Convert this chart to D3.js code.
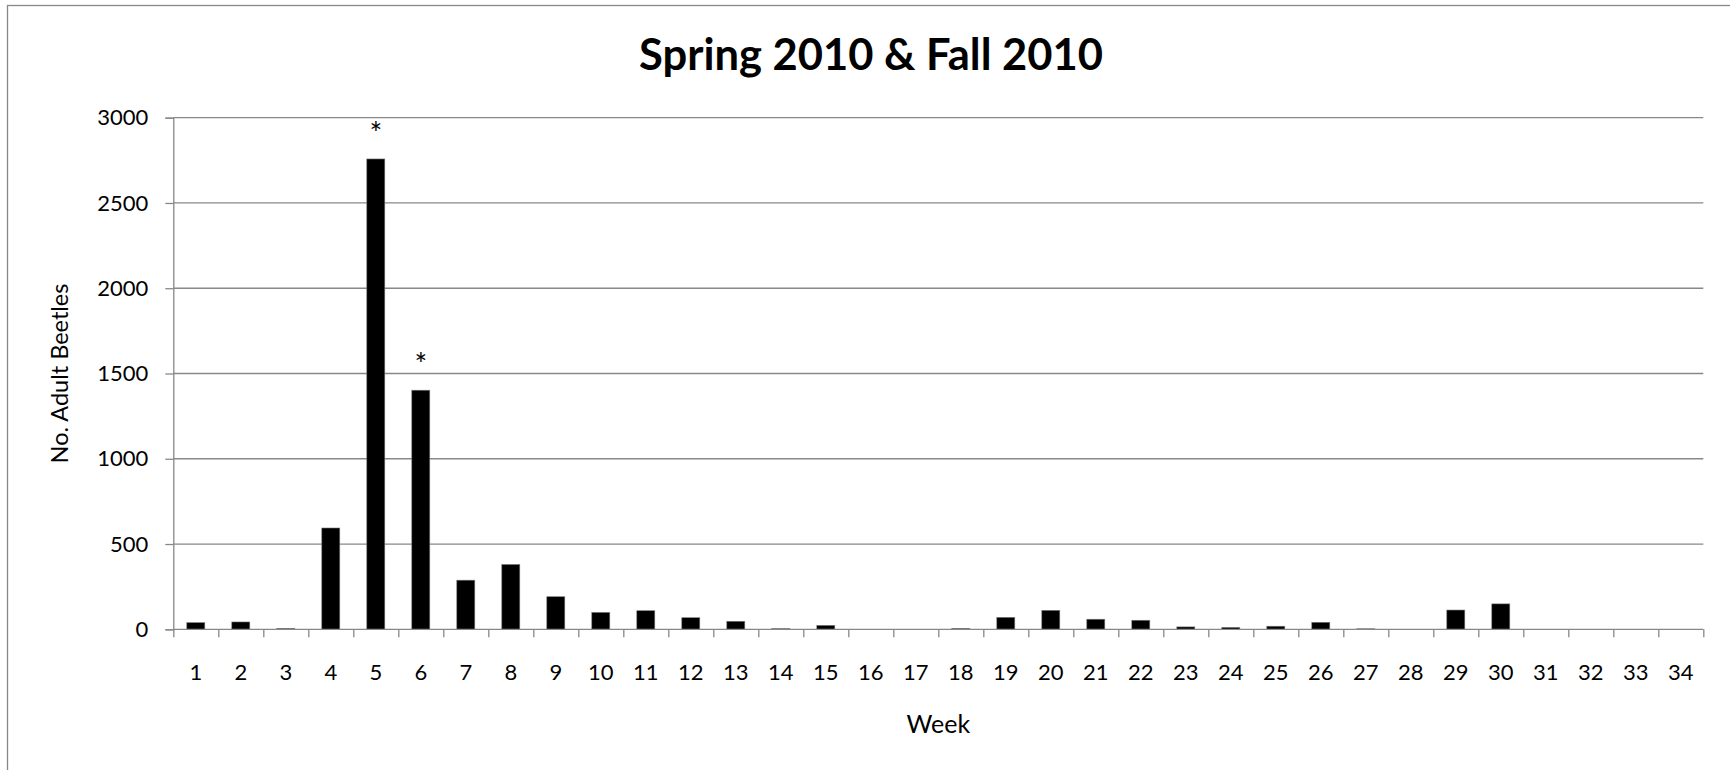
<!DOCTYPE html>
<html>
<head>
<meta charset="utf-8">
<script src="https://cdn.jsdelivr.net/npm/d3@7"></script>
<style>
  html, body { margin: 0; padding: 0; background: #fff; }
  svg { display: block; }
  text { font-family: Lato, "Open Sans", sans-serif; fill: #000; }
</style>
</head>
<body>
<svg id="chart" width="1730" height="770"></svg>
<script>
// ---- data ----
const weeks = d3.range(1, 35).map(String);
const beetles = [39, 43, 5, 594, 2758, 1402, 288, 380, 191, 99, 109, 68, 47, 4, 23, 0, 0, 5,
                 70, 111, 59, 53, 14, 11, 18, 41, 3, 0, 113, 149, 0, 0, 0, 0];
const yTicks = [0, 500, 1000, 1500, 2000, 2500, 3000];
const starWeeks = ["5", "6"];
const titleText = "Spring 2010 & Fall 2010";
const xTitle = "Week";
const yTitle = "No. Adult Beetles";

// ---- layout ----
const svg = d3.select("#chart");
const plotL = 173.3, plotR = 1703.3, plotT = 117.7, plotB = 629.3;
const grey = "#888888";

svg.append("rect")
  .attr("x", 7.5).attr("y", 5.5).attr("width", 1740).attr("height", 800)
  .attr("fill", "none").attr("stroke", grey).attr("stroke-width", 1.3);

const x = d3.scaleBand().domain(weeks).range([plotL, plotR])
  .paddingInner(0.6).paddingOuter(0.3);
const xEdge = d3.scaleLinear().domain([0, weeks.length]).range([plotL, plotR]);
const y = d3.scaleLinear().domain([0, 3000]).range([plotB, plotT]);

// gridlines + y axis
const yAxis = svg.append("g").attr("transform", `translate(${plotL},0)`)
  .call(d3.axisLeft(y).tickValues(yTicks).tickFormat(d3.format("d")).tickSize(8).tickPadding(17));
yAxis.select(".domain").attr("stroke", grey).attr("stroke-width", 1.3);
yAxis.selectAll(".tick line").attr("stroke", grey).attr("stroke-width", 1.3);
yAxis.selectAll(".tick text").attr("font-size", 22).attr("font-family", "Lato").attr("fill", "#000");

svg.append("g").selectAll("line.grid").data(yTicks.filter(d => d > 0)).join("line")
  .attr("x1", plotL).attr("x2", plotR)
  .attr("y1", d => y(d)).attr("y2", d => y(d))
  .attr("stroke", grey).attr("stroke-width", 1.3);

// bars
svg.append("g").selectAll("rect").data(weeks).join("rect")
  .attr("x", d => x(d))
  .attr("width", x.bandwidth())
  .attr("y", (d, i) => y(beetles[i]))
  .attr("height", (d, i) => y(0) - y(beetles[i]))
  .attr("fill", "#000")
  .attr("stroke", "#777").attr("stroke-width", 0.6);

// x axis: edge ticks
const xTickAxis = svg.append("g").attr("transform", `translate(0,${plotB})`)
  .call(d3.axisBottom(xEdge).tickValues(d3.range(0, weeks.length + 1)).tickSize(8).tickFormat(""));
xTickAxis.select(".domain").remove();
xTickAxis.selectAll(".tick line").attr("stroke", grey).attr("stroke-width", 1.3);
svg.append("line").attr("x1", plotL).attr("x2", plotR).attr("y1", plotB).attr("y2", plotB)
  .attr("stroke", grey).attr("stroke-width", 1.3);

// x axis labels
const xLab = svg.append("g").attr("transform", `translate(0,${plotB})`)
  .call(d3.axisBottom(x).tickSize(0).tickPadding(35));
xLab.select(".domain").remove();
xLab.selectAll(".tick text").attr("font-size", 22).attr("font-family", "Lato").attr("fill", "#000");

// stars
svg.append("g").selectAll("text").data(starWeeks).join("text")
  .attr("x", d => x(d) + x.bandwidth() / 2)
  .attr("y", d => y(beetles[weeks.indexOf(d)]) - 15)
  .attr("text-anchor", "middle").attr("font-size", 30).attr("fill", "#000")
  .text("*");

// titles
svg.append("text").attr("x", 871).attr("y", 70).attr("text-anchor", "middle")
  .attr("font-size", 43.5).attr("font-weight", "bold").text(titleText);
svg.append("text").attr("x", (plotL + plotR) / 2).attr("y", 733).attr("text-anchor", "middle")
  .attr("font-size", 25).text(xTitle);
svg.append("text").attr("transform", `translate(68,${(plotT + plotB) / 2}) rotate(-90)`)
  .attr("text-anchor", "middle").attr("font-size", 23.5).text(yTitle);
</script>
</body>
</html>
